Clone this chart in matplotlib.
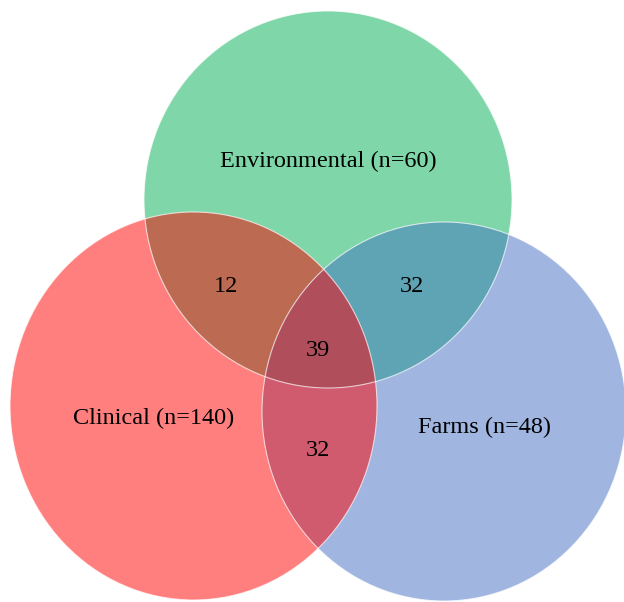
import numpy as np
import matplotlib
matplotlib.use("Agg")
import matplotlib.pyplot as plt
from matplotlib.patches import Ellipse, Polygon

# data
set_names = ["Environmental", "Clinical", "Farms"]
set_sizes = [60, 140, 48]
pair_labels = ["12", "32", "32"]   # Env&Clin, Env&Farms, Clin&Farms
triple_label = "39"

# layout (pixel-like coords, y down)
centers = [(328, 199.5), (193.5, 406), (444, 411.5)]
widths = [368, 367, 364]
heights = [377, 388, 379]
colors = ["#7FD6A8", "#FF7F7F", "#A0B6E0"]
pair_idx = [(0, 1), (0, 2), (1, 2)]
pair_colors = ["#BC6B52", "#5FA4B4", "#D05A6E"]
triple_color = "#B04F5B"

name_pos = [(328, 161), (154, 418), (484, 427)]
pair_pos = [(226, 287), (412, 287), (318, 451)]
triple_pos = (318, 350)


def boundary(i, n=1500):
    t = np.linspace(0, 2 * np.pi, n, endpoint=False)
    cx, cy = centers[i]
    return np.c_[cx + widths[i] / 2 * np.cos(t), cy + heights[i] / 2 * np.sin(t)]


def inside(i, pts):
    cx, cy = centers[i]
    return ((pts[:, 0] - cx) / (widths[i] / 2)) ** 2 + ((pts[:, 1] - cy) / (heights[i] / 2)) ** 2 <= 1


def region(ids):
    # intersection of convex shapes -> collect boundary points inside the others
    pts = []
    for i in ids:
        b = boundary(i)
        mask = np.ones(len(b), bool)
        for j in ids:
            if j != i:
                mask &= inside(j, b)
        pts.append(b[mask])
    pts = np.vstack(pts)
    c = pts.mean(axis=0)
    ang = np.arctan2(pts[:, 1] - c[1], pts[:, 0] - c[0])
    return pts[np.argsort(ang)]


fig = plt.figure(figsize=(6.24, 6.02), dpi=100)
ax = fig.add_axes([0, 0, 1, 1])
ax.set_xlim(0, 624)
ax.set_ylim(602, 0)
ax.axis("off")

for i in [0, 2, 1]:
    ax.add_patch(Ellipse(centers[i], widths[i], heights[i], facecolor=colors[i], edgecolor="none"))

for (a, b), col in zip(pair_idx, pair_colors):
    ax.add_patch(Polygon(region([a, b]), closed=True, facecolor=col, edgecolor="none"))

ax.add_patch(Polygon(region([0, 1, 2]), closed=True, facecolor=triple_color, edgecolor="none"))

for i in range(3):
    ax.add_patch(Ellipse(centers[i], widths[i], heights[i], facecolor="none",
                         edgecolor="white", lw=0.8, alpha=0.7))

fs = 17.5
for name, n, pos in zip(set_names, set_sizes, name_pos):
    ax.text(pos[0], pos[1], f"{name} (n={n})", ha="center", va="center",
            fontsize=fs, family="Liberation Serif")
for lab, pos in zip(pair_labels, pair_pos):
    ax.text(pos[0], pos[1], lab, ha="center", va="center", fontsize=fs, family="Liberation Serif")
ax.text(triple_pos[0], triple_pos[1], triple_label, ha="center", va="center",
        fontsize=fs, family="Liberation Serif")

fig.savefig("out.png", dpi=100)
